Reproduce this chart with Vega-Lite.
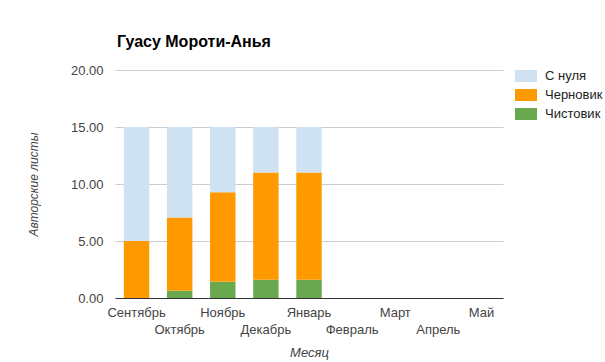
{
  "$schema": "https://vega.github.io/schema/vega-lite/v6.json",
  "autosize": "none",
  "width": 388,
  "height": 228,
  "padding": {"left": 115, "top": 70, "right": 102, "bottom": 64},
  "background": "white",
  "title": {
    "text": "Гуасу Мороти-Анья",
    "anchor": "start",
    "frame": "group",
    "font": "Liberation Sans",
    "fontSize": 16,
    "fontWeight": "bold",
    "color": "#000000",
    "offset": 14,
    "dx": 2
  },
  "config": {
    "view": {"stroke": null},
    "font": "Liberation Sans"
  },
  "data": {
    "values": [
      {"month": "Сентябрь", "type": "Чистовик", "value": 0},
      {"month": "Сентябрь", "type": "Черновик", "value": 5},
      {"month": "Сентябрь", "type": "С нуля", "value": 10},
      {"month": "Октябрь", "type": "Чистовик", "value": 0.64},
      {"month": "Октябрь", "type": "Черновик", "value": 6.43},
      {"month": "Октябрь", "type": "С нуля", "value": 7.93},
      {"month": "Ноябрь", "type": "Чистовик", "value": 1.42},
      {"month": "Ноябрь", "type": "Черновик", "value": 7.86},
      {"month": "Ноябрь", "type": "С нуля", "value": 5.72},
      {"month": "Декабрь", "type": "Чистовик", "value": 1.6},
      {"month": "Декабрь", "type": "Черновик", "value": 9.4},
      {"month": "Декабрь", "type": "С нуля", "value": 4.0},
      {"month": "Январь", "type": "Чистовик", "value": 1.6},
      {"month": "Январь", "type": "Черновик", "value": 9.4},
      {"month": "Январь", "type": "С нуля", "value": 4.0},
      {"month": "Февраль", "type": "Чистовик", "value": 0},
      {"month": "Март", "type": "Чистовик", "value": 0},
      {"month": "Апрель", "type": "Чистовик", "value": 0},
      {"month": "Май", "type": "Чистовик", "value": 0}
    ]
  },
  "mark": {"type": "bar"},
  "encoding": {
    "x": {
      "field": "month",
      "type": "nominal",
      "sort": ["Сентябрь", "Октябрь", "Ноябрь", "Декабрь", "Январь", "Февраль", "Март", "Апрель", "Май"],
      "scale": {"paddingInner": 0.41, "paddingOuter": 0.205},
      "axis": {
        "title": "Месяц",
        "titleFont": "Liberation Sans",
        "titleFontSize": 13,
        "titleFontStyle": "italic",
        "titleFontWeight": "normal",
        "titleColor": "#444444",
        "titlePadding": 10,
        "labelAngle": 0,
        "labelFontSize": 13,
        "labelColor": "#444444",
        "labelPadding": {
          "condition": {"test": "indexof(['Октябрь','Декабрь','Февраль','Апрель'], datum.value) >= 0", "value": 25},
          "value": 8
        },
        "labelOverlap": false,
        "ticks": false,
        "domainColor": "#333333",
        "domainWidth": 1,
        "grid": false
      }
    },
    "y": {
      "field": "value",
      "type": "quantitative",
      "stack": "zero",
      "scale": {"domain": [0, 20]},
      "axis": {
        "title": "Авторские листы",
        "titleFont": "Liberation Sans",
        "titleFontSize": 12,
        "titleFontStyle": "italic",
        "titleFontWeight": "normal",
        "titleColor": "#444444",
        "titlePadding": 30,
        "values": [0, 5, 10, 15, 20],
        "format": ".2f",
        "labelFontSize": 13,
        "labelColor": "#444444",
        "labelPadding": 12,
        "ticks": false,
        "domain": false,
        "gridColor": "#cccccc",
        "gridWidth": 1
      }
    },
    "color": {
      "field": "type",
      "type": "nominal",
      "scale": {
        "domain": ["С нуля", "Черновик", "Чистовик"],
        "range": ["#cfe2f3", "#ff9900", "#6aa84f"]
      },
      "legend": {
        "title": null,
        "orient": "none",
        "legendX": 400,
        "legendY": -5,
        "symbolType": "M-1,-0.545H1V0.545H-1Z",
        "symbolSize": 484,
        "symbolStrokeWidth": 0,
        "symbolOpacity": 1,
        "labelFontSize": 13,
        "labelColor": "#222222",
        "labelOffset": 8,
        "rowPadding": 1
      }
    },
    "order": {"field": "type", "sort": "descending"}
  }
}
